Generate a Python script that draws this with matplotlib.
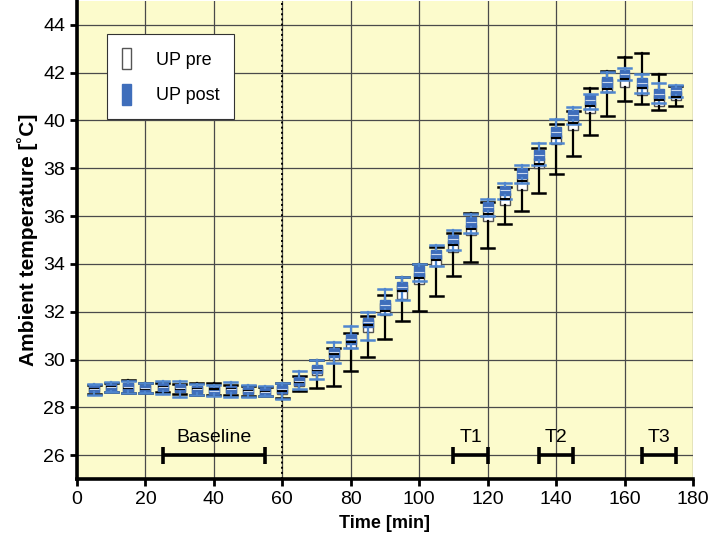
import numpy as np
import matplotlib
matplotlib.use("Agg")
import matplotlib.pyplot as plt
from matplotlib.patches import Patch

plt.rcParams['font.family'] = ['Liberation Sans', 'DejaVu Sans']

# Time points (min)
times = list(range(5, 180, 5))

# UP pre: whisker low, q1, median, q3, whisker high
pre_lo  = [28.55, 28.65, 28.60, 28.58, 28.62, 28.55, 28.52, 28.50, 28.52, 28.48, 28.48, 28.40,
           28.70, 28.80, 28.90, 29.50, 30.10, 30.85, 31.60, 32.05, 32.65, 33.50, 34.10, 34.65,
           35.65, 36.20, 36.98, 37.76, 38.50, 39.40, 40.17, 40.81, 40.67, 40.42, 40.60]
pre_q1  = [28.62, 28.70, 28.66, 28.63, 28.68, 28.62, 28.60, 28.58, 28.60, 28.55, 28.52, 28.55,
           28.90, 29.35, 30.00, 30.50, 31.15, 31.85, 32.55, 33.15, 33.90, 34.50, 35.20, 35.80,
           36.45, 37.10, 38.02, 39.00, 39.60, 40.33, 41.19, 41.40, 41.05, 40.59, 40.87]
pre_med = [28.75, 28.85, 28.82, 28.78, 28.85, 28.78, 28.75, 28.75, 28.75, 28.68, 28.65, 28.70,
           29.05, 29.55, 30.25, 30.75, 31.45, 32.05, 32.85, 33.40, 34.15, 34.80, 35.45, 36.10,
           36.70, 37.45, 38.20, 39.25, 39.90, 40.60, 41.30, 41.75, 41.35, 40.85, 41.00]
pre_q3  = [28.90, 28.98, 29.00, 28.93, 28.98, 28.92, 28.90, 28.92, 28.88, 28.82, 28.80, 28.88,
           29.25, 29.72, 30.42, 30.92, 31.65, 32.38, 33.12, 33.62, 34.38, 34.95, 35.62, 36.25,
           36.95, 37.58, 38.42, 39.40, 40.00, 40.79, 41.75, 41.90, 41.47, 41.05, 41.19]
pre_hi  = [28.95, 29.02, 29.15, 29.00, 29.02, 28.98, 29.00, 29.00, 28.95, 28.88, 28.86, 29.02,
           29.30, 30.00, 30.50, 31.10, 31.80, 32.70, 33.45, 34.00, 34.70, 35.30, 36.15, 36.60,
           37.20, 37.95, 38.85, 39.85, 40.40, 41.35, 42.07, 42.66, 42.84, 41.96, 41.45]

# UP post
post_lo  = [28.50, 28.62, 28.60, 28.58, 28.55, 28.45, 28.52, 28.48, 28.45, 28.45, 28.46, 28.35,
            28.75, 29.20, 29.87, 30.50, 30.80, 31.90, 32.50, 33.30, 33.90, 34.60, 35.30, 36.00,
            36.70, 37.40, 38.15, 39.05, 39.85, 40.50, 41.20, 41.70, 41.15, 40.75, 41.00]
post_q1  = [28.62, 28.70, 28.68, 28.65, 28.68, 28.64, 28.60, 28.56, 28.60, 28.55, 28.52, 28.58,
            28.92, 29.42, 30.10, 30.65, 31.35, 32.10, 32.85, 33.45, 34.20, 34.82, 35.55, 36.20,
            36.90, 37.60, 38.35, 39.28, 40.02, 40.65, 41.38, 41.75, 41.35, 40.90, 41.08]
post_med = [28.77, 28.85, 28.85, 28.80, 28.85, 28.80, 28.75, 28.70, 28.75, 28.70, 28.65, 28.75,
            29.10, 29.60, 30.30, 30.85, 31.55, 32.30, 33.05, 33.68, 34.40, 35.03, 35.77, 36.40,
            37.10, 37.80, 38.56, 39.50, 40.23, 40.86, 41.60, 41.96, 41.57, 41.12, 41.26]
post_q3  = [28.92, 28.98, 29.00, 28.95, 29.00, 28.96, 28.90, 28.86, 28.90, 28.85, 28.80, 28.92,
            29.28, 29.78, 30.48, 31.05, 31.75, 32.50, 33.25, 33.90, 34.60, 35.22, 35.97, 36.58,
            37.28, 38.00, 38.78, 39.72, 40.42, 41.05, 41.80, 42.12, 41.78, 41.32, 41.42]
post_hi  = [28.98, 29.05, 29.08, 29.02, 29.08, 29.10, 28.98, 28.92, 29.05, 28.95, 28.88, 29.02,
            29.50, 30.00, 30.75, 31.40, 31.97, 32.97, 33.45, 34.00, 34.80, 35.40, 36.10, 36.73,
            37.40, 38.12, 39.07, 40.05, 40.55, 41.10, 42.03, 42.20, 41.93, 41.57, 41.50]

# Measurement periods
periods = ["Baseline", "T1", "T2", "T3"]
period_start = [25, 110, 135, 165]
period_end = [55, 120, 145, 175]

bg = '#fcfbcc'
blue = '#3f6ebb'
blue_light = '#4f86cf'


def make_stats(lo, q1, med, q3, hi):
    return [dict(whislo=a, q1=b, med=c, q3=d, whishi=e, fliers=[])
            for a, b, c, d, e in zip(lo, q1, med, q3, hi)]


fig = plt.figure(figsize=(7.09, 5.42), dpi=100)
ax = fig.add_axes([0.1086, 0.1162, 0.8688, 0.882])
ax.set_facecolor(bg)

ax.set_axisbelow(True)
ax.grid(True, color='#4a4a4a', linewidth=0.9)

ax.axvline(60, color='black', linestyle=':', linewidth=1.4, zorder=2)

ax.bxp(make_stats(pre_lo, pre_q1, pre_med, pre_q3, pre_hi), positions=times,
       widths=2.9, capwidths=3.8, patch_artist=True, manage_ticks=False,
       boxprops=dict(facecolor='white', edgecolor='#555555', linewidth=1.0),
       medianprops=dict(color='black', linewidth=1.5),
       whiskerprops=dict(color='black', linewidth=1.6),
       capprops=dict(color='black', linewidth=1.8))

ax.bxp(make_stats(post_lo, post_q1, post_med, post_q3, post_hi), positions=times,
       widths=2.9, capwidths=3.8, patch_artist=True, manage_ticks=False,
       boxprops=dict(facecolor=blue, edgecolor=blue, linewidth=1.0),
       medianprops=dict(color='#c9d8f0', linewidth=0.8),
       whiskerprops=dict(color=blue_light, linewidth=1.6),
       capprops=dict(color=blue_light, linewidth=1.8))

# period bars
for name, s, e in zip(periods, period_start, period_end):
    ax.plot([s, e], [26, 26], color='black', linewidth=2.6, solid_capstyle='butt')
    ax.plot([s, s], [25.62, 26.35], color='black', linewidth=2.6, solid_capstyle='butt')
    ax.plot([e, e], [25.62, 26.35], color='black', linewidth=2.6, solid_capstyle='butt')
    ax.text((s + e) / 2, 26.4, name, ha='center', va='bottom', fontsize=14)

ax.set_xlim(0, 180)
ax.set_ylim(25, 45)
ax.set_xticks(np.arange(0, 181, 20))
ax.set_yticks(np.arange(26, 45, 2))
ax.tick_params(labelsize=14, width=2, length=5, direction='out')

for side in ['top', 'right']:
    ax.spines[side].set_visible(False)
for side in ['left', 'bottom']:
    ax.spines[side].set_linewidth(2.6)

ax.set_xlabel('Time [min]', fontsize=13, fontweight='bold', labelpad=5)
ax.set_ylabel('Ambient temperature [˚C]', fontsize=15, fontweight='bold', labelpad=4)

handles = [Patch(facecolor='white', edgecolor='#555555', linewidth=1.0),
           Patch(facecolor=blue, edgecolor=blue)]
leg = ax.legend(handles, ['UP pre', 'UP post'], loc='upper left',
                bbox_to_anchor=(0.049, 0.931), borderaxespad=0, fontsize=13,
                handlelength=0.5, handleheight=1.4, handletextpad=1.4,
                borderpad=0.8, labelspacing=0.8, fancybox=False, framealpha=1,
                edgecolor='#333333')
leg.get_frame().set_linewidth(0.8)

fig.savefig('out.png', dpi=100)
